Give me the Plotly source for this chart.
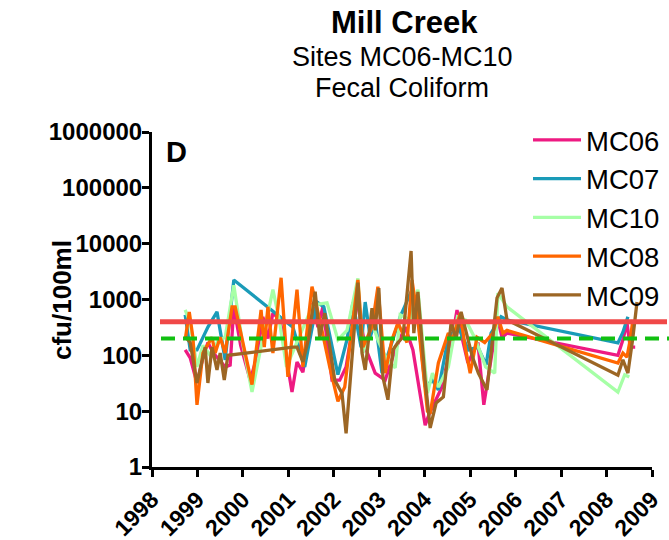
import plotly.graph_objects as go

# ---- data (decimal years, cfu/100ml) ----
mc06_x = [1998.73,1998.84,1998.99,1999.12,1999.23,1999.35,1999.50,1999.61,1999.72,1999.80,1999.95,2000.16,2000.30,2000.44,2000.55,2000.66,2000.82,2001.08,2001.19,2001.32,2001.54,2001.65,2001.76,2001.96,2002.13,2002.27,2002.51,2002.69,2002.91,2003.13,2003.35,2003.57,2003.74,2004.01,2004.10,2004.38,2004.60,2004.71,2004.82,2004.95,2005.17,2005.30,2005.48,2005.61,2005.70,2005.81,2008.25,2008.36,2008.45,2008.52,2008.63]
mc06_y = [125,90,32,90,170,110,80,62,67,740,150,36,90,490,200,570,430,22,76,50,870,320,740,36,36,62,980,140,48,36,125,320,125,5.6,9,27,190,650,210,73,170,13,110,430,210,250,100,190,380,140,140]

mc07_x = [1998.73,1998.84,1998.99,1999.23,1999.43,1999.61,1999.80,2001.10,2001.36,2001.63,2001.78,2002.09,2002.29,2002.42,2002.60,2002.69,2002.80,2002.91,2003.06,2003.28,2003.46,2003.72,2003.83,2004.01,2004.17,2004.30,2004.52,2004.74,2004.96,2005.17,2005.35,2005.46,2005.68,2005.81,2008.25,2008.36,2008.47]
mc07_y = [530,125,125,320,600,83,2240,320,62,900,740,45,190,870,140,900,210,430,48,170,490,1500,740,27,36,24,210,320,125,140,67,250,490,430,167,260,490]

mc10_x = [1998.73,1998.84,1998.99,1999.12,1999.28,1999.45,1999.61,1999.80,1999.98,2000.20,2000.44,2000.66,2000.80,2000.96,2001.21,2001.54,2001.85,2002.09,2002.29,2002.53,2002.64,2002.84,2002.97,2003.17,2003.35,2003.46,2003.68,2003.85,2004.06,2004.17,2004.30,2004.52,2004.72,2004.90,2005.12,2005.34,2005.54,2005.61,2005.81,2008.25,2008.40,2008.50]
mc10_y = [650,380,62,150,100,180,210,1800,190,22,210,1500,430,62,190,800,870,190,280,2400,110,380,190,83,60,530,430,1500,21,48,27,62,490,430,190,62,48,1300,740,22,45,41]

mc08_x = [1998.73,1998.82,1998.90,1998.99,1999.12,1999.32,1999.39,1999.50,1999.61,1999.76,1999.83,1999.94,2000.20,2000.40,2000.47,2000.55,2000.66,2000.84,2000.99,2001.19,2001.32,2001.52,2001.69,2001.91,2002.09,2002.24,2002.53,2002.64,2002.84,2002.97,2003.13,2003.28,2003.41,2003.61,2003.72,2003.85,2004.06,2004.12,2004.30,2004.52,2004.61,2004.78,2004.89,2005.00,2005.15,2005.32,2005.50,2005.61,2005.72,2005.81,2008.25,2008.36,2008.45,2008.52,2008.58]
mc08_y = [190,600,210,13,110,210,110,210,110,740,740,280,30,650,140,740,110,2450,41,1500,62,1700,430,62,15,27,2240,140,320,1700,48,190,380,170,2240,430,10,9,73,250,190,570,140,48,210,170,250,490,250,280,73,110,93,190,430]

mc09_x = [1998.73,1998.84,1998.99,1999.17,1999.23,1999.32,1999.43,1999.50,1999.59,1999.67,2001.10,2001.19,2001.32,2001.45,2001.59,2001.69,2001.80,2002.02,2002.18,2002.27,2002.53,2002.62,2002.69,2002.84,2002.91,2002.99,2003.08,2003.19,2003.30,2003.41,2003.52,2003.70,2003.76,2003.85,2004.01,2004.12,2004.25,2004.41,2004.58,2004.69,2004.80,2004.94,2005.05,2005.18,2005.37,2005.59,2005.70,2005.81,2008.25,2008.36,2008.47,2008.58,2008.67]
mc09_y = [215,170,32,140,32,140,55,110,36,100,140,140,76,210,1380,210,570,36,21,4,2000,110,55,700,280,1600,41,16,125,170,210,7400,250,1370,36,5,14,18,380,200,600,210,93,48,24,1070,1600,430,44,83,48,210,900]

series_names = ["MC06", "MC07", "MC10", "MC08", "MC09"]
series_x = [mc06_x, mc07_x, mc10_x, mc08_x, mc09_x]
series_y = [mc06_y, mc07_y, mc10_y, mc08_y, mc09_y]
series_colors = ["#EE1A82", "#1A9BB8", "#A6FFA6", "#FF6600", "#9C6624"]

limit_high = 400   # solid red reference line
limit_low = 200    # dashed green reference line

year_ticks = list(range(1998, 2010))
y_ticks = [1, 10, 100, 1000, 10000, 100000, 1000000]
y_ticklabels = ["1", "10", "100", "1000", "10000", "100000", "1000000"]

FONT = "Liberation Sans, Arial, Helvetica, sans-serif"

fig = go.Figure()
for name, xs, ys, col in zip(series_names, series_x, series_y, series_colors):
    fig.add_trace(go.Scatter(x=xs, y=ys, mode="lines", name=name,
                             line=dict(color=col, width=3.3), connectgaps=True))

fig.add_shape(type="line", xref="paper", yref="y", x0=0.016, x1=1.03,
              y0=limit_high, y1=limit_high, line=dict(color="#F04848", width=5))
fig.add_shape(type="line", xref="paper", yref="y", x0=0.018, x1=1.04,
              y0=limit_low, y1=limit_low, line=dict(color="#11C011", width=4, dash="14px,8px"))

fig.update_layout(
    width=669, height=540,
    margin=dict(l=152, r=17, t=132, b=73, autoexpand=False),
    paper_bgcolor="white", plot_bgcolor="white",
    font=dict(family=FONT, color="black"),
    showlegend=True,
    legend=dict(x=0.752, y=1.049, xanchor="left", yanchor="top",
                font=dict(size=27.5, family=FONT, color="black"),
                bgcolor="rgba(0,0,0,0)", itemwidth=48),
    xaxis=dict(range=[1998, 2009], tickvals=year_ticks, ticktext=[str(y) for y in year_ticks],
               tickangle=-45, showgrid=False, zeroline=False, showline=True, automargin=False,
               linecolor="black", linewidth=3, ticks="outside", ticklen=7, tickwidth=3,
               tickcolor="black", tickfont=dict(size=23, family=FONT, weight="bold")),
    yaxis=dict(type="log", range=[0, 6], tickvals=y_ticks, ticktext=y_ticklabels,
               showgrid=False, zeroline=False, showline=True, automargin=False,
               linecolor="black", linewidth=3, ticks="outside", ticklen=7, tickwidth=3,
               ticklabelstandoff=-5,
               tickcolor="black", tickfont=dict(size=24, family=FONT, weight="bold")),
    annotations=[
        dict(text="<b>Mill Creek</b>", x=0.505, y=1.328, xref="paper", yref="paper",
             showarrow=False, font=dict(size=31, family=FONT), yanchor="middle"),
        dict(text="Sites MC06-MC10", x=0.5, y=1.224, xref="paper", yref="paper",
             showarrow=False, font=dict(size=27, family=FONT), yanchor="middle"),
        dict(text="Fecal Coliform", x=0.5, y=1.131, xref="paper", yref="paper",
             showarrow=False, font=dict(size=27, family=FONT), yanchor="middle"),
        dict(text="<b>cfu/100ml</b>", x=-0.18, y=0.4985, xref="paper", yref="paper",
             showarrow=False, textangle=-90, font=dict(size=26, family=FONT),
             xanchor="center", yanchor="middle"),
        dict(text="<b>D</b>", x=0.048, y=0.94, xref="paper", yref="paper",
             showarrow=False, font=dict(size=29, family=FONT), xanchor="center", yanchor="middle"),
    ],
)

fig.write_html("out.html", config={"displayModeBar": False},
               post_script="document.body.style.margin='0';")
